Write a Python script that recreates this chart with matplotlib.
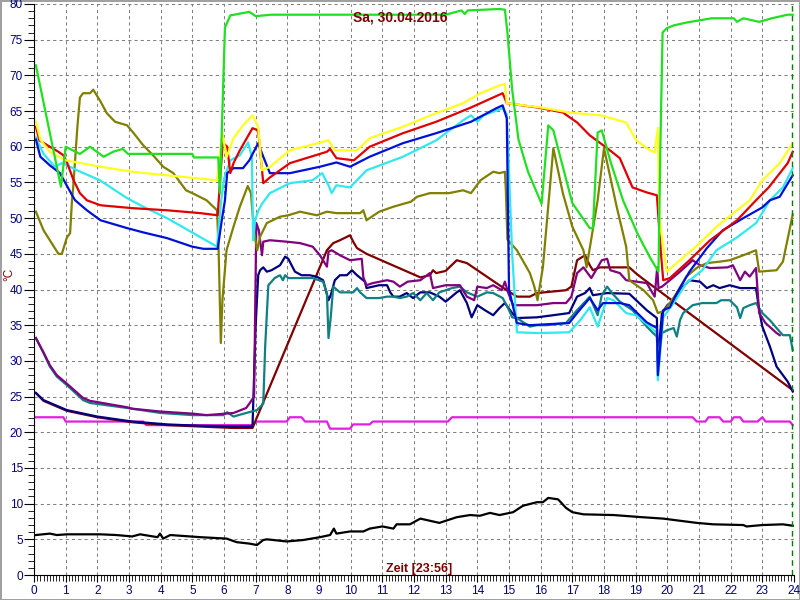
import matplotlib
matplotlib.use("Agg")
import matplotlib.pyplot as plt
from matplotlib.ticker import MultipleLocator

plt.rcParams['font.family'] = ['Liberation Sans', 'DejaVu Sans']

title = "Sa, 30.04.2016"
xlabel = "Zeit [23:56]"
ylabel = "°C"
now_h = 23 + 56 / 60

# hours / values, one pair per sensor
green_h = [0.06, 0.85, 1.0, 1.45, 1.77, 2.2, 2.5, 2.8, 2.97, 5.0, 5.05, 5.82, 5.87, 5.96, 6.03, 6.2, 6.8, 7.0, 7.5,
           13.0, 13.5, 13.6, 13.7, 14.7, 14.87, 14.95, 15.1, 15.3, 15.6, 16.03, 16.24, 16.4, 16.7, 17.0, 17.55, 17.65,
           17.8, 17.93, 18.2, 18.6, 19.05, 19.45, 19.72, 19.78, 19.85, 19.98, 20.2, 20.6, 21.4, 22.1, 22.2, 22.4,
           22.9, 23.3, 23.8, 23.96]
green_v = [71.4, 54.4, 60, 59, 60, 58.6, 59.3, 59.7, 59, 59, 58.5, 58.5, 53.5, 66.5, 76.7, 78.4, 78.9, 78.3, 78.5,
           78.5, 79.1, 78.6, 79.1, 79.3, 79.2, 76, 68, 61, 56.5, 52, 63, 62.3, 57.2, 52.1, 48.6, 48.6,
           62, 62.3, 58, 52.5, 47.9, 44.5, 42.5, 60, 76, 76.6, 77, 77.4, 78, 78, 77.5, 78,
           77.5, 78, 78.5, 78.5]

yellow_h = [0.06, 0.2, 0.5, 1.0, 2.1, 3.1, 4.2, 5.78, 5.95, 6.08, 6.3, 6.6, 6.9, 7.08, 7.2, 7.45, 8.08, 8.7, 9.3,
            9.5, 10.2, 10.6, 11.65, 12.7, 13.55, 14.1, 14.7, 14.87, 14.93, 16.0, 16.9, 17.9, 18.7, 19.0, 19.35,
            19.6, 19.7, 19.75, 19.98, 20.4, 20.95, 21.55, 22.2, 22.6, 23.0, 23.55, 23.96]
yellow_v = [63.5, 61, 59.3, 58.1, 57.2, 56.5, 56, 55.3, 62, 58.5, 61.2, 63, 64.4, 62.8, 56.7, 57.2, 59.5, 60.2, 60.9,
            59.5, 59.5, 61.2, 62.8, 64.7, 66.1, 67.5, 68.6, 68.8, 66.1, 65.5, 64.8, 64.4, 63.4, 61, 59.8,
            59.2, 62.6, 50, 42.5, 44.1, 46.2, 48.8, 51.1, 52.5, 55.3, 57.7, 60.5]

red_h = [0.06, 0.17, 0.5, 0.77, 0.93, 1.05, 1.25, 1.45, 1.67, 2.1, 3.1, 4.2, 5.25, 5.8, 5.96, 6.1, 6.2, 6.3, 6.5,
         6.9, 7.08, 7.24, 7.45, 8.08, 9.25, 9.35, 9.55, 10.1, 10.6, 11.65, 12.7, 13.8, 14.8, 14.93, 15.9, 16.7,
         17.15, 17.55, 18.1, 18.5, 18.9, 19.35, 19.67, 19.8, 19.87, 20.08, 20.7, 21.35, 22.2, 22.8, 23.2, 23.8, 23.96]
red_v = [62.8, 60.9, 60, 59.3, 58.8, 57.7, 55.3, 53.5, 52.5, 51.8, 51.4, 51.1, 50.7, 50.4, 60.6, 60, 56.3, 57.7, 59.5,
         62.6, 62.3, 54.9, 55.7, 57.7, 59.3, 59.7, 58.4, 58.1, 60, 61.9, 63.5, 65.5, 67.5, 66.1, 65.5, 64.8,
         63.4, 61.6, 59.8, 58.4, 54.3, 53.6, 53.2, 45, 41.3, 41.6, 44.1, 46.9, 49.7, 52.5, 54.3, 57.7, 59.3]

blue_h = [0.06, 0.2, 0.5, 0.82, 1.23, 1.3, 1.67, 2.1, 2.94, 3.45, 4.2, 5.0, 5.35, 5.8, 5.93, 6.03, 6.1, 6.3, 6.6,
          6.8, 7.08, 7.24, 7.45, 8.08, 9.03, 9.55, 9.98, 10.6, 11.65, 12.7, 13.8, 14.6, 14.8, 14.93, 15.0, 15.25,
          15.66, 16.9, 17.15, 17.55, 17.8, 17.97, 18.5, 18.8, 19.35, 19.67, 19.7, 19.87, 20.08, 20.3, 20.7, 21.25,
          21.75, 22.4, 23.0, 23.24, 23.55, 23.96]
blue_v = [61, 58.6, 57.4, 56.3, 53, 52.5, 51.1, 49.7, 48.6, 48, 47.2, 46, 45.7, 45.7, 49.7, 52.5, 56.3, 57, 57,
          58.1, 60.5, 58.6, 56.3, 56.3, 57.2, 57.8, 57.2, 58.6, 60.5, 61.9, 63.5, 65.4, 65.8, 64, 40, 35.3,
          35, 35.3, 36.7, 38.8, 37.1, 38.1, 38.1, 37.8, 35.4, 34.6, 28, 37.1, 37.5, 39.5, 42.5, 45.8,
          48.3, 50, 51.5, 52.5, 53, 56]

cyan_h = [0.06, 0.3, 0.66, 0.88, 1.0, 1.36, 2.08, 2.94, 3.45, 4.2, 5.03, 5.78, 5.9, 6.0, 6.2, 6.5, 6.76, 6.88, 6.92,
          6.98, 7.08, 7.2, 7.45, 8.08, 8.8, 9.1, 9.3, 9.4, 9.55, 9.98, 10.5, 11.65, 12.7, 13.55, 13.8, 14.0, 14.2,
          14.8, 14.93, 15.1, 15.25, 15.9, 16.9, 17.25, 17.55, 17.8, 18.1, 18.3, 18.7, 19.0, 19.45, 19.67, 19.7,
          19.87, 20.2, 20.6, 21.1, 21.55, 22.2, 22.8, 23.24, 23.65, 23.96]
cyan_v = [61.3, 59, 57.2, 57.7, 57.5, 56.7, 55.3, 52.8, 51.6, 50, 47.9, 46, 52, 55.5, 58.1, 58.8, 60.6, 58.6, 46.9,
          49.7, 51, 52, 53.5, 54.9, 55.3, 56.3, 54.6, 53.5, 54.6, 54.3, 56.7, 58.6, 60.9, 63.7, 64.4, 63.5, 64.4,
          65.4, 64.5, 45, 34, 33.9, 34, 35.7, 37.5, 34.8, 38.8, 38.5, 36.7, 36.4, 34.8, 33.9, 27.3,
          36.1, 38.1, 40.9, 42.7, 45.5, 47.3, 49.3, 52.5, 54.3, 57]

olive_h = [0.06, 0.3, 0.5, 0.77, 0.88, 1.04, 1.14, 1.2, 1.24, 1.37, 1.45, 1.55, 1.77, 1.87, 2.08, 2.3, 2.56, 2.94,
           3.13, 3.45, 3.76, 4.08, 4.4, 4.8, 5.0, 5.45, 5.78, 5.83, 5.9, 5.95, 6.08, 6.3, 6.5, 6.75, 6.85, 6.95,
           7.05, 7.14, 7.35, 7.77, 8.03, 8.4, 8.93, 9.25, 9.55, 10.3, 10.4, 10.5, 10.9, 11.35, 11.9, 12.1, 12.5,
           13.1, 13.55, 13.8, 14.1, 14.5, 14.7, 14.87, 14.9, 14.95, 15.25, 15.66, 15.8, 15.9, 16.07, 16.4, 16.7,
           17.0, 17.35, 17.45, 17.8, 18.0, 18.4, 18.7, 18.8, 19.25, 19.55, 19.7, 19.9, 20.3, 20.6, 20.95, 21.25,
           21.65, 21.97, 22.4, 22.8, 22.9, 23.45, 23.65, 23.96]
olive_v = [50.9, 48.3, 46.9, 45, 45, 47.3, 47.9, 52.5, 54.4, 62.8, 66.9, 67.5, 67.5, 68, 66.5, 64.7, 63.5, 63,
           62, 60.2, 58.8, 57.2, 56.3, 53.9, 53.5, 52.5, 51.1, 45.5, 32.5, 38.5, 45.5, 48.8, 51.6, 54.5, 53.5, 48,
           45.5, 47.4, 49.3, 50.2, 50.4, 50.9, 50.4, 50.9, 50.7, 50.7, 51.1, 49.7, 50.9, 51.6, 52.3, 53, 53.5,
           53.5, 53.9, 53.5, 55.3, 56.5, 56.3, 56.5, 54, 47, 45.5, 42.3, 40.4, 38.5, 43.1, 59.8, 53.5,
           48.8, 45.5, 43.1, 52.5, 59.8, 51.6, 46, 41.3, 39.9, 38.5, 36.7, 37, 39.5, 41.8, 43.1, 43.7,
           43.9, 44.1, 44.8, 45.5, 42.5, 42.7, 43.9, 50.5]

purple_h = [0.06, 0.3, 0.5, 0.72, 1.04, 1.55, 1.77, 2.94, 3.1, 4.0, 5.03, 5.45, 6.3, 6.7, 6.8, 6.95, 7.02, 7.1, 7.2,
            7.24, 7.45, 7.98, 8.4, 8.8, 9.03, 9.25, 9.3, 9.4, 9.66, 9.98, 10.35, 10.4, 10.5, 10.7, 11.15, 11.35,
            11.55, 11.8, 12.2, 12.5, 12.6, 13.0, 13.45, 13.67, 13.9, 14.0, 14.3, 14.5, 14.77, 14.87, 14.97, 15.13,
            15.88, 16.4, 16.8, 16.97, 17.15, 17.35, 17.6, 17.93, 18.1, 18.2, 18.5, 18.7, 19.35, 19.6, 19.68, 19.72,
            19.83, 20.08, 20.4, 20.8, 21.03, 21.35, 21.9, 22.07, 22.3, 22.45, 22.6, 22.8, 22.9, 23.1, 23.45, 23.55]
purple_v = [33.2, 31.2, 29.4, 28, 26.8, 24.8, 24.4, 23.5, 23.3, 22.9, 22.6, 22.4, 22.7, 23.4, 24, 25, 49.3, 48.3, 44.8,
            46.7, 46.9, 46.7, 46.5, 46, 44.8, 43.2, 45.3, 45.5, 44.8, 44.1, 44.3, 41.7, 40.6, 40.9, 41.3, 41.1,
            40.4, 41.1, 41.3, 42.3, 40.2, 40.6, 40.6, 39, 38.5, 40.4, 40.2, 40.6, 39.9, 41.1, 39.6, 37.8,
            37.8, 38.1, 38.1, 39, 42.3, 43.1, 41.6, 44.1, 44.3, 42.7, 42.3, 41.3, 40.9, 39, 43.1, 40.2,
            40.4, 41.3, 42.5, 44.1, 43.4, 43, 43.1, 43.4, 41.3, 42.5, 41.8, 43, 36.7, 35.3, 33.9, 33.6]

navy_h = [0.06, 0.3, 1.04, 2.0, 3.1, 4.2, 5.25, 6.3, 6.9, 7.0, 7.08, 7.14, 7.24, 7.35, 7.5, 7.77, 7.93, 8.03, 8.24,
          8.45, 8.7, 8.93, 9.13, 9.3, 9.37, 9.5, 9.66, 9.88, 10.04, 10.2, 10.45, 10.5, 10.9, 11.15, 11.25, 11.35,
          11.55, 11.77, 11.97, 12.2, 12.5, 12.8, 13.0, 13.35, 13.45, 13.67, 13.82, 14.0, 14.24, 14.5, 14.7, 14.87,
          15.1, 15.25, 15.88, 16.4, 16.9, 17.15, 17.4, 17.55, 17.65, 18.1, 18.8, 19.35, 19.67, 19.7, 19.83, 20.0,
          20.2, 20.5, 20.7, 21.03, 21.25, 21.45, 21.65, 21.97, 22.3, 22.8, 22.9, 23.0, 23.24, 23.45, 23.8, 23.96]
navy_v = [25.5, 24.5, 23.1, 22.2, 21.5, 21.1, 20.9, 20.8, 20.8, 35, 42, 42.7, 43.1, 42.5, 42.7, 43.4, 44.6, 44.3, 42.5,
          42, 42, 41.8, 41.3, 38.5, 39.2, 41.3, 42, 42, 42.7, 42, 41.1, 40.2, 40.6, 40.6, 39.6, 39,
          39, 39.5, 38.8, 39.6, 39.6, 39, 38.3, 39.6, 39.9, 38.1, 36.1, 37.8, 37.1, 36.4, 37.4, 38.1,
          36.7, 36, 36.1, 36.4, 36.7, 39, 39.5, 40.2, 39.2, 39.5, 39.4, 37.1, 36, 30.1, 36.7, 37.8,
          38.5, 40.4, 41.3, 41.1, 40.2, 40.6, 40.2, 40.6, 40.2, 40.2, 37.1, 34.8, 32, 29.2, 27.1, 25.7]

teal_h = [0.06, 0.3, 0.5, 0.72, 1.04, 1.55, 1.77, 2.94, 4.0, 5.03, 5.98, 6.1, 6.3, 6.7, 7.04, 7.24, 7.3, 7.4, 7.6,
          7.77, 7.86, 7.93, 8.03, 8.4, 8.8, 9.13, 9.25, 9.3, 9.37, 9.45, 9.66, 10.08, 10.2, 10.3, 10.5, 10.9, 11.15,
          11.35, 11.55, 11.77, 11.97, 12.2, 12.4, 12.6, 12.8, 13.2, 13.45, 13.67, 14.0, 14.3, 14.5, 14.8, 14.97,
          15.1, 15.25, 15.66, 15.88, 16.2, 16.8, 17.15, 17.45, 17.55, 17.8, 17.93, 18.1, 18.25, 18.5, 18.9, 19.35,
          19.55, 19.67, 19.7, 19.83, 20.0, 20.2, 20.3, 20.4, 20.5, 20.8, 21.1, 21.55, 21.7, 21.97, 22.2, 22.3,
          22.4, 22.6, 22.8, 23.0, 23.24, 23.45, 23.65, 23.87, 23.96]
teal_v = [33.2, 31.1, 29.2, 27.8, 26.6, 24.5, 24.1, 23.4, 22.7, 22.4, 22.4, 22.8, 22.2, 22.7, 23.1, 24, 32, 40.6, 41.6,
          42, 41.3, 42, 41.6, 41.6, 41.6, 41.1, 39.5, 33.2, 36.1, 40.4, 39.6, 39.6, 40.2, 39.6, 38.8, 38.8, 39,
          39, 38.8, 39, 39.5, 38.5, 39.5, 38.5, 39.6, 40.2, 40.4, 39.6, 39, 39.6, 39.5, 38.8, 37.4,
          36.1, 36, 34.8, 35, 35, 35.3, 37.1, 38.5, 39, 36.4, 39.2, 40.4, 39.5, 38.3, 37.1, 34.8,
          33.9, 33.4, 30.1, 33.9, 34.3, 34.6, 33.4, 35.7, 36.7, 37.8, 38.1, 38.1, 38.5, 38.5, 37.5, 36,
          37.4, 37.8, 38.1, 36.7, 35.7, 34.6, 33.6, 33.6, 31.5]

maroon_h = [0.06, 0.3, 1.04, 2.0, 3.1, 4.2, 5.25, 6.3, 6.9, 9.25, 9.45, 9.66, 9.98, 10.08, 10.2, 10.5, 12.2, 12.5,
            12.6, 12.7, 13.0, 13.35, 13.67, 14.93, 15.25, 15.66, 15.88, 16.8, 16.97, 17.15, 17.4, 17.55, 17.65,
            17.87, 18.3, 18.8, 19.0, 19.2, 23.96]
maroon_v = [25.5, 24.4, 23.0, 22.1, 21.4, 21.0, 20.8, 20.6, 20.6, 45.5, 46.5, 46.9, 47.6, 46.7, 45.8, 45, 41.7, 42,
            42.7, 42.3, 42.6, 44.1, 43.7, 39.9, 39, 39, 39.5, 39.9, 40.4, 44.1, 44.8, 43.4, 42.7,
            43.1, 43.1, 43.1, 42.3, 41.6, 25.9]

magenta_h = [0.06, 0.93, 1.0, 3.45, 3.55, 6.92, 7.0, 7.98, 8.08, 8.45, 8.56, 9.25, 9.35, 9.98, 10.08, 10.6, 10.7,
             13.07, 13.2, 20.8, 20.93, 21.2, 21.3, 21.65, 21.76, 22.0, 22.1, 22.3, 22.4, 22.85, 23.0, 23.1, 23.87,
             23.96]
magenta_v = [22.1, 22.1, 21.5, 21.5, 21, 21, 21.5, 21.5, 22.1, 22.1, 21.5, 21.5, 20.5, 20.5, 21.1, 21.1, 21.5,
             21.5, 22.1, 22.1, 21.5, 21.5, 22.1, 22.1, 21.5, 21.5, 22.1, 22.1, 21.5, 21.5, 22.1, 21.5, 21.5,
             21]

black_h = [0.06, 0.5, 0.72, 1.04, 2.1, 2.6, 3.1, 3.35, 3.9, 3.98, 4.08, 4.3, 5.25, 6.08, 6.4, 6.8, 7.04, 7.24, 7.35,
           7.98, 8.5, 9.03, 9.35, 9.47, 9.55, 9.98, 10.4, 10.6, 11.0, 11.35, 11.45, 11.87, 12.2, 12.5, 12.8, 13.35,
           13.77, 14.08, 14.4, 14.7, 15.13, 15.44, 15.88, 16.07, 16.24, 16.55, 16.8, 17.0, 17.35, 18.3, 19.2, 19.87,
           20.93, 21.45, 22.4, 22.5, 23.0, 23.65, 23.96]
black_v = [5.6, 5.8, 5.6, 5.7, 5.7, 5.6, 5.4, 5.7, 5.3, 5.8, 5.1, 5.6, 5.3, 5.1, 4.6, 4.4, 4.2, 4.9, 5.0,
           4.7, 4.9, 5.3, 5.6, 6.5, 5.8, 6.1, 6.1, 6.5, 6.8, 6.5, 7.1, 7.1, 7.9, 7.6, 7.3, 8.1,
           8.4, 8.3, 8.7, 8.4, 8.8, 9.7, 10.2, 10.2, 10.8, 10.6, 9.4, 8.8, 8.5, 8.4, 8.1, 7.9,
           7.3, 7.1, 7.0, 6.8, 7.0, 7.1, 6.9]

series = [
    (black_h, black_v, "#000000"),
    (magenta_h, magenta_v, "#e020e0"),
    (maroon_h, maroon_v, "#800000"),
    (navy_h, navy_v, "#000080"),
    (teal_h, teal_v, "#108080"),
    (purple_h, purple_v, "#800080"),
    (olive_h, olive_v, "#808000"),
    (cyan_h, cyan_v, "#30e8f0"),
    (blue_h, blue_v, "#0010d8"),
    (red_h, red_v, "#e00000"),
    (yellow_h, yellow_v, "#ffff20"),
    (green_h, green_v, "#20e020"),
]

fig = plt.figure(figsize=(8, 6), dpi=100, edgecolor="#a0a0a0", linewidth=2)
ax = fig.add_axes([34 / 800, 25 / 600, 760 / 800, 571 / 600])

for h, v, c in series:
    ax.plot(h, v, color=c, lw=1.6, solid_joinstyle="round")

# current time marker
ax.axvline(now_h, color="#008000", lw=1, ls=(0, (4, 3)))

ax.set_xlim(0, 24)
ax.set_ylim(0, 80)
ax.xaxis.set_major_locator(MultipleLocator(1))
ax.xaxis.set_minor_locator(MultipleLocator(0.1))
ax.yaxis.set_major_locator(MultipleLocator(5))
ax.yaxis.set_minor_locator(MultipleLocator(1))
ax.grid(True, which="major", color="#808080", lw=0.75, ls=(0, (3, 3)))
ax.set_axisbelow(True)

for s in ["top", "right"]:
    ax.spines[s].set_visible(False)
ax.tick_params(which="both", direction="out", colors="black", labelcolor="#000080", labelsize=8.5)
ax.tick_params(axis="y", which="major", length=7, pad=1)
ax.tick_params(axis="y", which="minor", length=4)
ax.tick_params(axis="x", which="major", length=5, pad=2)
ax.tick_params(axis="x", which="minor", length=4)

fig.text(0.5, 1 - 18 / 600, title, ha="center", va="center", color="#800000", fontsize=10, fontweight="bold")
fig.text(419 / 800, 1 - 569 / 600, xlabel, ha="center", va="center", color="#800000", fontsize=9, fontweight="bold")
fig.text(9 / 800, 1 - 274 / 600, ylabel, ha="center", va="center", rotation=90, color="#800000", fontsize=8.5)

fig.savefig("out.png", dpi=100, edgecolor=fig.get_edgecolor())
